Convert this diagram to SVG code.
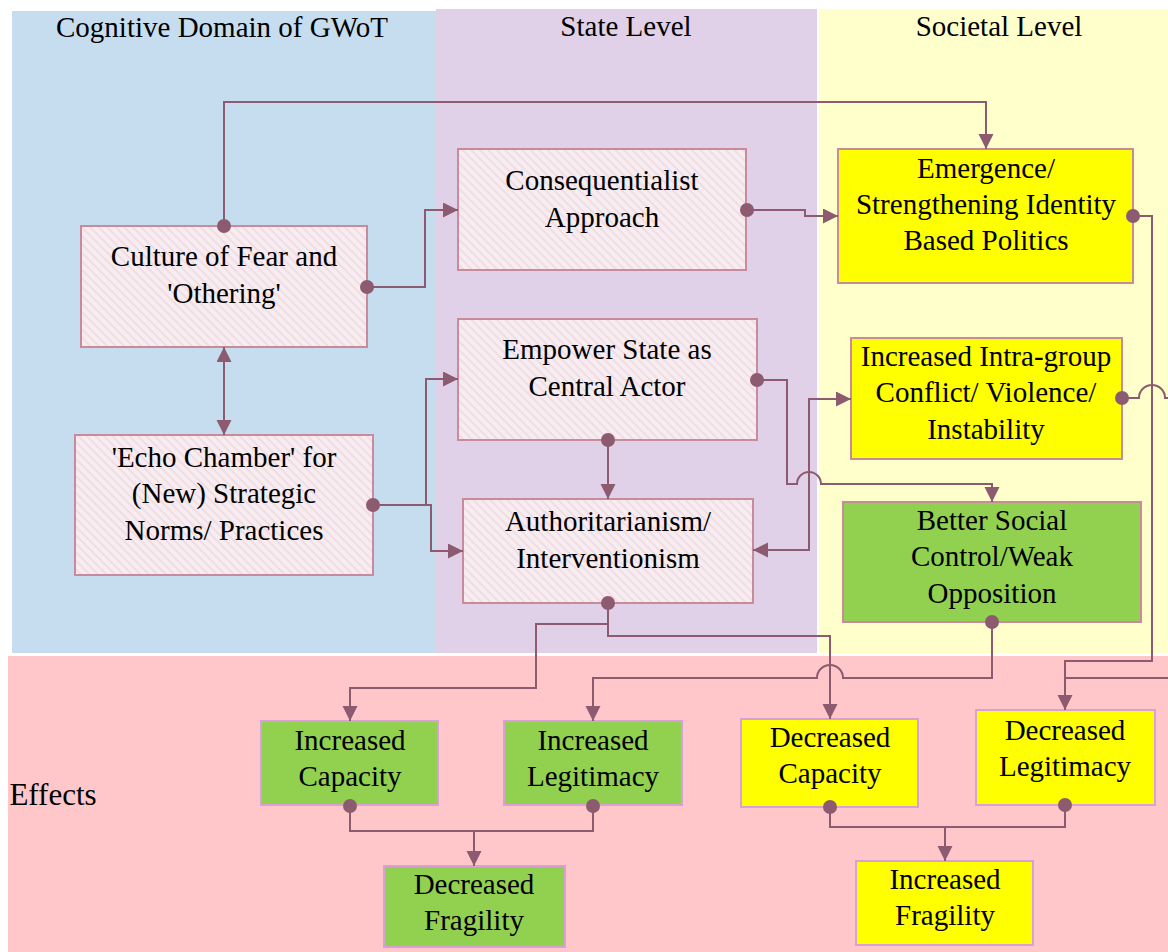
<svg xmlns="http://www.w3.org/2000/svg" width="1168" height="952" viewBox="0 0 1168 952">
  <style>
    text { font-family: "Liberation Serif", "Times New Roman", serif; font-size: 29px; fill: #000; text-anchor: middle; }
    .hdr { font-size: 29px; }
    .box-h { fill: url(#hatch); stroke: #c98a9c; stroke-width: 2; }
    .box-y { fill: #ffff00; stroke: #c98a9c; stroke-width: 2; }
    .box-g { fill: #92d050; stroke: #c98a9c; stroke-width: 2; }
    .box-ye { fill: #ffff00; stroke: #d9a0d6; stroke-width: 2; }
    .box-ge { fill: #92d050; stroke: #d9a0d6; stroke-width: 2; }
    .wire { fill: none; stroke: #8d5b6f; stroke-width: 2; }
    .dot-arrow { marker-start: url(#dot); marker-end: url(#arrow); }
  </style>
  <defs>
    <pattern id="hatch" patternUnits="userSpaceOnUse" width="6" height="6" patternTransform="rotate(45)">
      <rect width="6" height="6" fill="#f7edf1"/>
      <rect width="6" height="1.6" fill="#eed9e1"/>
    </pattern>
    <marker id="arrow" markerUnits="userSpaceOnUse" markerWidth="16" markerHeight="16" refX="15" refY="7.5" orient="auto-start-reverse">
      <path d="M0,0 L15,7.5 L0,15 z" fill="#8d5b6f"/>
    </marker>
    <marker id="dot" markerUnits="userSpaceOnUse" markerWidth="16" markerHeight="16" refX="8" refY="8" orient="auto">
      <circle cx="8" cy="8" r="7" fill="#8d5b6f"/>
    </marker>
  </defs>

  <!-- background bands -->
  <rect width="1168" height="952" fill="#ffffff"/>
  <rect x="12" y="11" width="424" height="642" fill="#c6ddf0"/>
  <rect x="436" y="9" width="381" height="644" fill="#e0d0e8"/>
  <rect x="819" y="9" width="349" height="644" fill="#ffffcc"/>
  <rect x="8" y="656" width="1160" height="296" fill="#ffc7c9"/>

  <text class="hdr" x="222" y="37">Cognitive Domain of GWoT</text>
  <text class="hdr" x="626" y="36">State Level</text>
  <text class="hdr" x="999" y="36">Societal Level</text>
  <text x="53" y="805" style="font-size:31px">Effects</text>

  <!-- nodes -->
  <g id="culture-of-fear">
    <rect class="box-h" x="81" y="226" width="286" height="121"/>
    <text x="224" y="266">Culture of Fear and</text>
    <text x="224" y="303">'Othering'</text>
  </g>
  <g id="echo-chamber">
    <rect class="box-h" x="75" y="435" width="298" height="140"/>
    <text x="224" y="467">'Echo Chamber' for</text>
    <text x="224" y="503">(New) Strategic</text>
    <text x="224" y="540">Norms/ Practices</text>
  </g>
  <g id="consequentialist">
    <rect class="box-h" x="458" y="149" width="288" height="121"/>
    <text x="602" y="190">Consequentialist</text>
    <text x="602" y="227">Approach</text>
  </g>
  <g id="empower-state">
    <rect class="box-h" x="458" y="319" width="299" height="121"/>
    <text x="607" y="359">Empower State as</text>
    <text x="607" y="396">Central Actor</text>
  </g>
  <g id="authoritarianism">
    <rect class="box-h" x="463" y="499" width="290" height="104"/>
    <text x="608" y="531">Authoritarianism/</text>
    <text x="608" y="568">Interventionism</text>
  </g>
  <g id="identity-politics">
    <rect class="box-y" x="838" y="149" width="295" height="134"/>
    <text x="986" y="178">Emergence/</text>
    <text x="986" y="214">Strengthening Identity</text>
    <text x="986" y="250">Based Politics</text>
  </g>
  <g id="intra-group-conflict">
    <rect class="box-y" x="851" y="338" width="271" height="121"/>
    <text x="986" y="366">Increased Intra-group</text>
    <text x="986" y="402">Conflict/ Violence/</text>
    <text x="986" y="439">Instability</text>
  </g>
  <g id="social-control">
    <rect class="box-g" x="843" y="502" width="298" height="120"/>
    <text x="992" y="530">Better Social</text>
    <text x="992" y="566">Control/Weak</text>
    <text x="992" y="603">Opposition</text>
  </g>
  <g id="increased-capacity">
    <rect class="box-ge" x="261" y="721" width="177" height="84"/>
    <text x="350" y="750">Increased</text>
    <text x="350" y="786">Capacity</text>
  </g>
  <g id="increased-legitimacy">
    <rect class="box-ge" x="504" y="721" width="178" height="84"/>
    <text x="593" y="750">Increased</text>
    <text x="593" y="786">Legitimacy</text>
  </g>
  <g id="decreased-fragility">
    <rect class="box-ge" x="384" y="866" width="181" height="81"/>
    <text x="474" y="894">Decreased</text>
    <text x="474" y="930">Fragility</text>
  </g>
  <g id="decreased-capacity">
    <rect class="box-ye" x="741" y="719" width="177" height="88"/>
    <text x="830" y="747">Decreased</text>
    <text x="830" y="783">Capacity</text>
  </g>
  <g id="decreased-legitimacy">
    <rect class="box-ye" x="976" y="710" width="179" height="95"/>
    <text x="1065" y="740">Decreased</text>
    <text x="1065" y="776">Legitimacy</text>
  </g>
  <g id="increased-fragility">
    <rect class="box-ye" x="856" y="861" width="177" height="84"/>
    <text x="945" y="889">Increased</text>
    <text x="945" y="925">Fragility</text>
  </g>

  <!-- connectors, drawn over the boxes so the source dots stay whole -->
  <g id="connectors">
    <path class="wire dot-arrow" d="M224,226 V102 H986 V149"/>
    <path class="wire dot-arrow" d="M367,287 H425 V210 H458"/>
    <path class="wire" d="M224,347 V435" marker-start="url(#arrow)" marker-end="url(#arrow)"/>
    <path class="wire dot-arrow" d="M373,505 H426 V379 H458"/>
    <path class="wire" d="M426,505 H431 V551 H463" marker-end="url(#arrow)"/>
    <path class="wire dot-arrow" d="M747,210 H805 V216 H838"/>
    <path class="wire dot-arrow" d="M608,440 V499"/>
    <path class="wire dot-arrow" d="M757,380 H787 V484 H797 A12,12 0 0 1 821,484 H992 V502"/>
    <path class="wire" d="M753,550 H809 V399 H851" marker-start="url(#arrow)" marker-end="url(#arrow)"/>
    <path class="wire dot-arrow" d="M1133,216 H1152 V661 H1065 V710"/>
    <path class="wire" d="M1122,398 H1139 A13,13 0 0 1 1165,398 H1180 V678 H1065" marker-start="url(#dot)"/>
    <path class="wire dot-arrow" d="M608,603 V624 H536 V688 H350 V721"/>
    <path class="wire" d="M608,624 V636 H830 V719" marker-end="url(#arrow)"/>
    <path class="wire dot-arrow" d="M992,622 V678 H843 A13,13 0 0 0 817,678 H593 V721"/>
    <path class="wire" d="M350,806 V831 H593 V806" marker-start="url(#dot)" marker-end="url(#dot)"/>
    <path class="wire" d="M474,831 V866" marker-end="url(#arrow)"/>
    <path class="wire" d="M830,807 V827 H1065 V805" marker-start="url(#dot)" marker-end="url(#dot)"/>
    <path class="wire" d="M945,827 V861" marker-end="url(#arrow)"/>
  </g>
</svg>
